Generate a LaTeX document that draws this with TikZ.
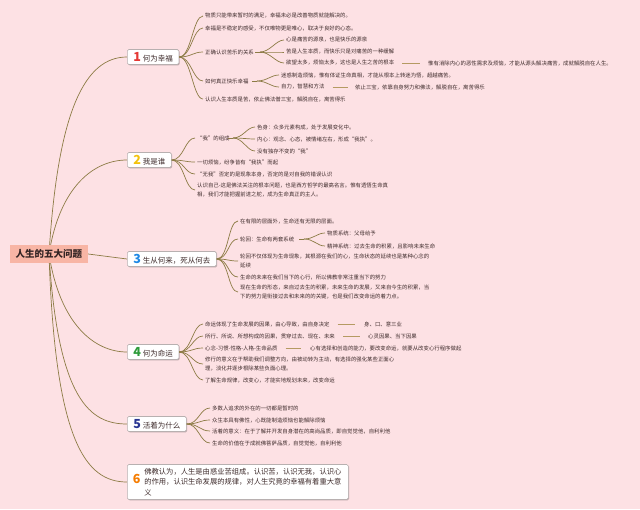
\documentclass[tikz,border=0pt]{standalone}
\usepackage{fontspec}
\setmainfont{Noto Sans CJK SC}
\usetikzlibrary{shadows}
\definecolor{bgpink}{HTML}{FDE1E4}
\definecolor{lineol}{HTML}{8C7B45}
\definecolor{dashol}{HTML}{B59A62}
\definecolor{txt}{HTML}{3F2C2C}
\definecolor{rootfill}{HTML}{F8B5A5}
\definecolor{boxgray}{HTML}{B8B0B0}
\definecolor{nA}{HTML}{E53935}
\definecolor{nB}{HTML}{F4C20D}
\definecolor{nC}{HTML}{1E88E5}
\definecolor{nD}{HTML}{2E9B3A}
\definecolor{nE}{HTML}{283593}
\definecolor{nF}{HTML}{F57C00}
\newcommand\brnum[2]{{\color{#1}\fontsize{12.5}{12.5}\selectfont\bfseries #2}\hspace{2pt}}
\pgfdeclarelayer{bg}
\pgfsetlayers{bg,main}
\begin{document}
\begin{tikzpicture}[x=1pt,y=-1pt,
  leaf/.style={anchor=west, inner xsep=2pt, inner ysep=0pt, xshift=-2pt, text=txt, font=\fontsize{5.4}{8.5}\selectfont, align=left},
  bbox/.style={draw=boxgray, fill=white, line width=0.6pt, rounded corners=1.5pt, inner xsep=6pt, inner ysep=2pt, minimum height=15pt, anchor=west, font=\fontsize{7.5}{9}\selectfont, text=txt, drop shadow={shadow xshift=0.8pt, shadow yshift=-0.8pt, opacity=0.25, fill=black}},
  rootbox/.style={fill=rootfill, text=txt!80!black, font=\fontsize{9.5}{11}\selectfont\bfseries, minimum width=78pt, minimum height=18pt, inner sep=2pt},
  conn/.style={draw=lineol, line width=0.7pt},
  dashline/.style={draw=dashol, line width=0.9pt}]
\begin{pgfonlayer}{bg}
\fill[bgpink] (0,0) rectangle (640,509);
\end{pgfonlayer}
\useasboundingbox (0,0) rectangle (640,509);

\node[rootbox] (root) at (49,254) {人生的五大问题};

% Branch 1
\node[bbox] (b1) at (127,57) {\brnum{nA}{1}何为幸福};
\node[leaf] (a1) at (205,16) {物质只能带来暂时的满足，幸福未必是改善物质就能解决的。};
\node[leaf] (a2) at (205,28) {幸福是不稳定的感受，不仅唯物更是唯心，取决于良好的心态。};
\node[leaf] (a3) at (205,52) {正确认识苦乐的关系};
\node[leaf] (a31) at (286,40) {心是痛苦的源泉，也是快乐的源泉};
\node[leaf] (a32) at (286,52) {苦是人生本质，而快乐只是对痛苦的一种缓解};
\node[leaf] (a33) at (286,63) {欲望太多，烦恼太多，这也是人生之苦的根本};
\node[leaf] (a34) at (428,63) {惟有消除内心的恶性需求及烦恼，才能从源头解决痛苦，成就解脱自在人生。};
\node[leaf] (a4) at (205,81) {如何真正快乐幸福};
\node[leaf] (a41) at (281,75) {迷惑制造烦恼，惟有体证生命真相，才能从根本上转迷为悟，超越痛苦。};
\node[leaf] (a42) at (281,87) {自力，智慧和方法};
\node[leaf] (a43) at (355,87) {依止三宝，依靠自身努力和佛法，解脱自在，离苦得乐};
\node[leaf] (a5) at (205,99) {认识人生本质是苦，依止佛法僧三宝，解脱自在，离苦得乐};
\coordinate (f3) at (255,52);
\coordinate (f4) at (252,81);

% Branch 2
\node[bbox] (b2) at (127,160) {\brnum{nB}{2}我是谁};
\node[leaf] (c1) at (197,138) {“我”的组成};
\coordinate (f5) at (228,138);
\node[leaf] (c11) at (257,127) {色身：众多元素构成，处于发展变化中。};
\node[leaf] (c12) at (257,139) {内心：观念、心态，被情绪左右，形成“我执”。};
\node[leaf] (c13) at (257,151) {没有独存不变的“我”};
\node[leaf] (c2) at (197,162) {一切烦恼，纷争皆有“我执”而起};
\node[leaf] (c3) at (197,174) {“无我”否定的是现象本身，否定的是对自我的错误认识};
\node[leaf] (c4) at (197,190) {认识自己-这是佛法关注的根本问题，也是西方哲学的最高名言。惟有透悟生命真\\相，我们才能把握前进之舵，成为生命真正的主人。};

% Branch 3
\node[bbox] (b3) at (127,259) {\brnum{nC}{3}生从何来，死从何去};
\node[leaf] (d1) at (240,221) {在有限的层面外，生命还有无限的层面。};
\node[leaf] (d2) at (240,239) {轮回：生命有两套系统};
\coordinate (f6) at (299,239);
\node[leaf] (d21) at (327,233) {物质系统：父母给予};
\node[leaf] (d22) at (327,246) {精神系统：过去生命的积累，且影响未来生命};
\node[leaf] (d3) at (240,261) {轮回不仅体现为生命现象，其根源在我们的心，生命状态的延续也是某种心念的\\延续};
\node[leaf] (d4) at (240,277) {生命的未来在我们当下的心行，所以佛教非常注重当下的努力};
\node[leaf] (d5) at (240,292) {现在生命的形态，来自过去生的积累，未来生命的发展，又来自今生的积累，当\\下的努力是衔接过去和未来的的关键，也是我们改变命运的着力点。};

% Branch 4
\node[bbox] (b4) at (127,352) {\brnum{nD}{4}何为命运};
\node[leaf] (e1) at (205,324) {命运体现了生命发展的因果，由心导致，由自身决定};
\node[leaf] (e1b) at (364,324) {身、口、意三业};
\node[leaf] (e2) at (205,336) {所行、所说、所想构成的因果，贯穿过去、现在、未来};
\node[leaf] (e2b) at (368,336) {心灵因果、当下因果};
\node[leaf] (e3) at (205,348) {心念-习惯-性格-人格-生命品质};
\node[leaf] (e3b) at (310,348) {心有选择和创造的能力，要改变命运，就要从改变心行程序做起};
\node[leaf] (e4) at (205,364) {修行的意义在于帮助我们调整方向，由被动转为主动，有选择的强化某些正面心\\理，淡化并逐步根除某些负面心理。};
\node[leaf] (e5) at (205,380) {了解生命规律，改变心，才能实地规划未来，改变命运};

% Branch 5
\node[bbox] (b5) at (127,424) {\brnum{nE}{5}活着为什么};
\node[leaf] (g1) at (212,408) {多数人追求的外在的一切都是暂时的};
\node[leaf] (g2) at (212,420) {众生本具有佛性，心既能制造烦恼也能解除烦恼};
\node[leaf] (g3) at (212,431) {活着的意义：在于了解并开发自身潜在的高尚品质，即自觉觉他，自利利他};
\node[leaf] (g4) at (212,443) {生命的价值在于成就佛菩萨品质，自觉觉他，自利利他};

% Branch 6
\node[bbox, inner xsep=2pt, inner ysep=1pt, minimum width=221pt, minimum height=35pt, font=\fontsize{7.3}{10.5}\selectfont] (b6) at (127,482)
  {\makebox[15pt][c]{\color{nF}\fontsize{12.5}{12.5}\selectfont\bfseries 6}\begin{minipage}[c]{202pt}\raggedright
  佛教认为，人生是由惑业苦组成。认识苦，认识无我，认识心\\的作用，认识生命发展的规律，对人生究竟的幸福有着重大意\\义\end{minipage}};

\begin{pgfonlayer}{bg}
\draw[conn] (root.center) .. controls (58,110) and (85,57) .. (b1.west);
\draw[conn] (root.center) .. controls (60,185) and (95,160) .. (b2.west);
\draw[conn] (root.east) -- (b3.west);
\draw[conn] (root.center) .. controls (60,325) and (95,352) .. (b4.west);
\draw[conn] (root.center) .. controls (58,400) and (90,424) .. (b5.west);
\draw[conn] (root.center) .. controls (55,440) and (85,482) .. (b6.west);
\end{pgfonlayer}

\foreach \c in {a1,a2,a3,a4,a5}
  \draw[conn] (b1.east) .. controls +(12,0) and +(-10,0) .. (\c.west);
\draw[conn] (f3) -- ++(5,0) coordinate (f3b);
\foreach \c in {a31,a32,a33}
  \draw[conn] (f3b) .. controls +(10,0) and +(-8,0) .. (\c.west);
\draw[conn] (f4) -- ++(5,0) coordinate (f4b);
\foreach \c in {a41,a42}
  \draw[conn] (f4b) .. controls +(10,0) and +(-8,0) .. (\c.west);
\draw[dashline] ([xshift=6pt]a33.east) -- ([xshift=-6pt]a34.west);
\draw[dashline] ([xshift=6pt]a42.east) -- ([xshift=-5pt]a43.west);

\foreach \c in {c1,c2,c3,c4}
  \draw[conn] (b2.east) .. controls +(12,0) and +(-10,0) .. (\c.west);
\draw[conn] (f5) -- ++(5,0) coordinate (f5b);
\foreach \c in {c11,c12,c13}
  \draw[conn] (f5b) .. controls +(10,0) and +(-8,0) .. (\c.west);

\foreach \c in {d1,d2,d3,d4,d5}
  \draw[conn] (b3.east) .. controls +(12,0) and +(-10,0) .. (\c.west);
\draw[conn] (f6) -- ++(5,0) coordinate (f6b);
\foreach \c in {d21,d22}
  \draw[conn] (f6b) .. controls +(10,0) and +(-8,0) .. (\c.west);

\foreach \c in {e1,e2,e3,e4,e5}
  \draw[conn] (b4.east) .. controls +(12,0) and +(-10,0) .. (\c.west);
\draw[dashline] ([xshift=6pt]e1.east) -- ([xshift=-7pt]e1b.west);
\draw[dashline] ([xshift=6pt]e2.east) -- ([xshift=-6pt]e2b.west);
\draw[dashline] ([xshift=6pt]e3.east) -- ([xshift=-7pt]e3b.west);

\foreach \c in {g1,g2,g3,g4}
  \draw[conn] (b5.east) .. controls +(12,0) and +(-10,0) .. (\c.west);
\end{tikzpicture}
\end{document}
